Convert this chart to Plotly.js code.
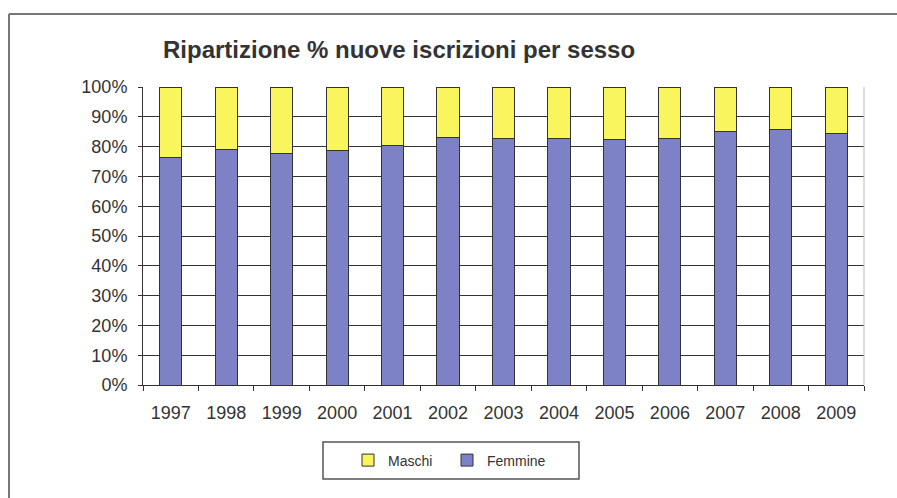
<!DOCTYPE html>
<html>
<head>
<meta charset="utf-8">
<script src="https://cdn.plot.ly/plotly-3.0.1.min.js"></script>
<style>html,body{margin:0;padding:0;background:#fff;}#chart{width:897px;height:498px;}</style>
</head>
<body>
<div id="chart"></div>
<script>
const years = ['1997','1998','1999','2000','2001','2002','2003','2004','2005','2006','2007','2008','2009'];
const femmine = [76.2, 79.0, 77.6, 78.7, 80.4, 82.9, 82.6, 82.8, 82.5, 82.7, 85.0, 85.8, 84.3];
const maschi = femmine.map(v => 100 - v);
const yTickVals = [0,10,20,30,40,50,60,70,80,90,100];
const yTickText = ['0%','10%','20%','30%','40%','50%','60%','70%','80%','90%','100%'];

const L = 143, R = 864, T = 87, B = 385, W = 897, H = 498;
const px = v => (v - L) / (R - L);
const py = v => (B - v) / (B - T);

const traces = [
  {type:'bar', name:'Femmine', x:years, y:femmine,
   marker:{color:'#7D82C6', line:{color:'#333', width:1}}, hoverinfo:'skip'},
  {type:'bar', name:'Maschi', x:years, y:maschi,
   marker:{color:'#F8F65C', line:{color:'#333', width:1}}, hoverinfo:'skip'}
];

const layout = {
  width:W, height:H,
  margin:{l:L, r:W-R, t:T, b:H-B},
  paper_bgcolor:'#fff', plot_bgcolor:'#fff',
  barmode:'stack', bargap:0.6,
  font:{family:'Arial, Liberation Sans, sans-serif', color:'#333', size:18},
  title:{text:'<b>Ripartizione % nuove iscrizioni per sesso</b>', xref:'container', x:163/W, xanchor:'left',
         yref:'container', y:1-50/H, yanchor:'middle', font:{size:24, color:'#333'}},
  xaxis:{type:'category', showgrid:false, showline:true, linecolor:'#333', linewidth:1,
         ticks:'outside', ticklen:5, tickcolor:'#333', tickson:'boundaries', ticklabelstandoff:11,
         tickfont:{size:18, color:'#333'}, zeroline:false, fixedrange:true},
  yaxis:{range:[0,100], tickvals:yTickVals, ticktext:yTickText, showgrid:true, gridcolor:'#333', gridwidth:1,
         showline:true, linecolor:'#333', linewidth:1, ticks:'outside', ticklen:4, tickcolor:'#333',
         ticklabelstandoff:7,
         tickfont:{size:18, color:'#333'}, zeroline:false, fixedrange:true},
  showlegend:true,
  legend:{orientation:'h', traceorder:'reversed', x:px(348), xanchor:'left', y:py(460.5), yanchor:'middle',
          borderwidth:0, bgcolor:'rgba(0,0,0,0)', font:{size:14, color:'#333'},
          itemwidth:30, entrywidth:54},
  shapes:[
    {type:'line', xref:'paper', yref:'paper', x0:px(9), x1:px(W), y0:py(14), y1:py(14), line:{color:'#777', width:2}},
    {type:'line', xref:'paper', yref:'paper', x0:px(9), x1:px(9), y0:py(14), y1:py(H), line:{color:'#777', width:2}},
    {type:'line', xref:'paper', yref:'paper', x0:1, x1:1, y0:0, y1:1, line:{color:'#bbb', width:1}},
    {type:'rect', xref:'paper', yref:'paper', x0:px(323), x1:px(579), y0:py(442), y1:py(479), line:{color:'#555', width:1.5}}
  ]
};

Plotly.newPlot('chart', traces, layout, {displayModeBar:false, staticPlot:true});
</script>
</body>
</html>
